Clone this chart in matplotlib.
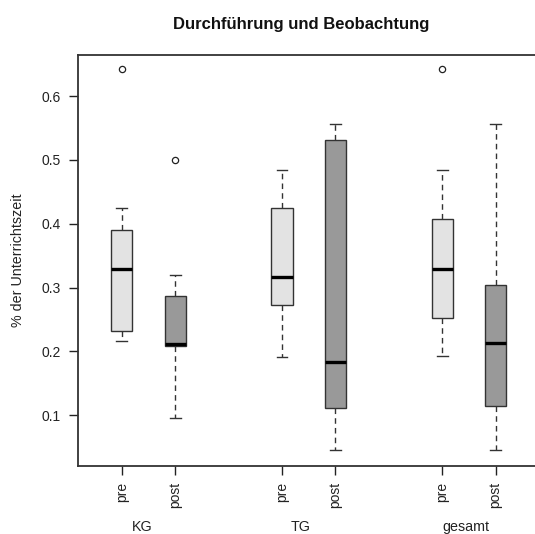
import numpy as np
import matplotlib.pyplot as plt

plt.rcParams['font.family'] = ['Liberation Sans', 'DejaVu Sans']

# Data
labels = ['pre', 'post', 'pre', 'post', 'pre', 'post']
groups = ['KG', 'TG', 'gesamt']
positions = [1, 2, 4, 5, 7, 8]
whislo = [0.217, 0.096, 0.192, 0.045, 0.193, 0.045]
q1 = [0.2315, 0.208, 0.272, 0.111, 0.252, 0.115]
med = [0.329, 0.212, 0.317, 0.1835, 0.329, 0.213]
q3 = [0.391, 0.287, 0.425, 0.532, 0.407, 0.304]
whishi = [0.425, 0.320, 0.484, 0.556, 0.484, 0.556]
fliers = [[0.642], [0.500], [], [], [0.642], []]
colors = ['#e3e3e3', '#999999'] * 3

stats = []
for i in range(len(labels)):
    stats.append(dict(whislo=whislo[i], q1=q1[i], med=med[i], q3=q3[i],
                      whishi=whishi[i], fliers=fliers[i], label=labels[i]))

fig = plt.figure(figsize=(5.35, 5.34), dpi=100)
ax = fig.add_axes([78 / 535, 68 / 534, 461.4 / 535, 411 / 534])

bp = ax.bxp(stats, positions=positions, widths=0.4, patch_artist=True,
            boxprops=dict(edgecolor='#333333', linewidth=1.0),
            medianprops=dict(color='black', linewidth=2.4, solid_capstyle='butt'),
            whiskerprops=dict(color='#333333', linewidth=1.0, linestyle=(0, (4, 3))),
            capprops=dict(color='#333333', linewidth=1.0),
            capwidths=0.2,
            flierprops=dict(marker='o', markersize=4.5, markerfacecolor='none',
                            markeredgecolor='#222222', markeredgewidth=0.9))
for patch, c in zip(bp['boxes'], colors):
    patch.set_facecolor(c)

ax.set_xlim(0.18, 8.82)
ax.set_ylim(0.0205, 0.6645)
ax.set_yticks([0.1, 0.2, 0.3, 0.4, 0.5, 0.6])
ax.set_yticklabels(['0.1', '0.2', '0.3', '0.4', '0.5', '0.6'])
ax.set_xticks(positions)
ax.set_xticklabels(labels, rotation=90)
ax.tick_params(axis='both', length=6.5, width=1.0, labelsize=10, colors='#222222')
ax.tick_params(axis='y', pad=6)
ax.tick_params(axis='x', pad=5)

for s in ax.spines.values():
    s.set_linewidth(1.3)
    s.set_color('#333333')

ax.set_ylabel('% der Unterrichtszeit', fontsize=10.3, color='#222222')
ax.yaxis.set_label_coords(-0.115, 0.5)
fig.text(301 / 535, 1 - 24 / 534, 'Durchführung und Beobachtung',
         ha='center', va='center', fontsize=12, fontweight='bold', color='#111111')

group_x = [1.375, 4.34, 7.45]
for gx, g in zip(group_x, groups):
    ax.text(gx, -0.148, g, transform=ax.get_xaxis_transform(), ha='center', va='center',
            fontsize=10.3, color='#222222')

fig.savefig('out.png', dpi=100)
